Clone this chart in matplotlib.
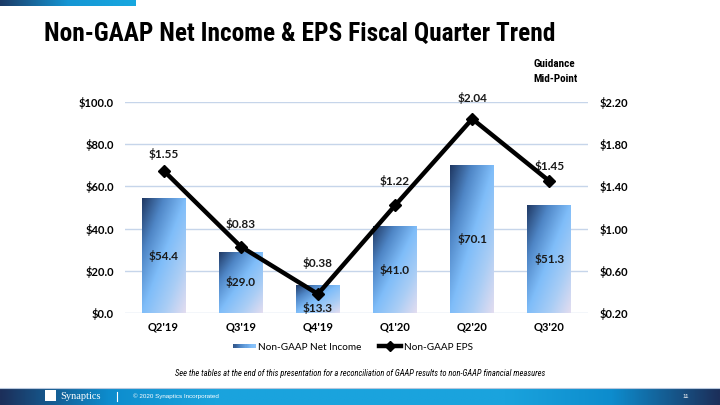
import numpy as np
import matplotlib
matplotlib.use('Agg')
import matplotlib.pyplot as plt
from matplotlib.colors import LinearSegmentedColormap
from matplotlib.patches import Rectangle
from matplotlib.lines import Line2D
from matplotlib.legend_handler import HandlerBase
from matplotlib import font_manager

quarters = ["Q2'19", "Q3'19", "Q4'19", "Q1'20", "Q2'20", "Q3'20"]
net_income = [54.4, 29.0, 13.3, 41.0, 70.1, 51.3]
eps = [1.55, 0.83, 0.38, 1.22, 2.04, 1.45]
left_ticks = [0, 20, 40, 60, 80, 100]
right_ticks = [0.20, 0.60, 1.00, 1.40, 1.80, 2.20]

FONT = 'Lato'
names = {f.name for f in font_manager.fontManager.ttflist}
NARROW = next((n for n in ['Liberation Sans Narrow', 'Roboto Condensed', 'Open Sans Condensed']
               if n in names), 'Liberation Sans')

bar_cmap = LinearSegmentedColormap.from_list(
    'bar', ['#1f3863', '#4f86c6', '#7fbdf9', '#a9cdf5', '#e3ddf0'])

fig = plt.figure(figsize=(7.2, 4.05), dpi=100)
fig.patch.set_facecolor('white')

# header strip + title
hdr = fig.add_axes([0, 1 - 6 / 405, 136 / 720, 6 / 405])
hdr.imshow(np.linspace(0, 1, 200)[None, :], aspect='auto',
           cmap=LinearSegmentedColormap.from_list('h', ['#1b3a66', '#1596d4', '#18a8e0']))
hdr.axis('off')
fig.text(44 / 720, 1 - 34 / 405, 'Non-GAAP Net Income & EPS Fiscal Quarter Trend',
         family=NARROW, weight='bold', fontsize=18.3,
         va='center', ha='left', color='black')
fig.text(533 / 720, 1 - 64 / 405, 'Guidance', family=NARROW,
         weight='bold', fontsize=8, va='center')
fig.text(533 / 720, 1 - 79 / 405, 'Mid-Point', family=NARROW,
         weight='bold', fontsize=8, va='center')

# main chart
ax = fig.add_axes([125 / 720, 1 - 313 / 405, 463 / 720, 211 / 405])
x = np.arange(len(quarters))
bars = ax.bar(x, net_income, width=0.57, color='none', zorder=2)
yy, xx = np.mgrid[0:1:100j, 0:1:100j]
grad = (xx + yy) / 2  # top-left dark -> bottom-right pale
label_shift = {2: -9}
for i, b in enumerate(bars):
    x0, w, h = b.get_x(), b.get_width(), b.get_height()
    im = ax.imshow(grad, cmap=bar_cmap, extent=(x0, x0 + w, 0, h),
                   aspect='auto', zorder=2, vmin=0, vmax=1)
    im.set_clip_path(b)
    ax.annotate(f'${h:.1f}', (x0 + w / 2, h / 2), xytext=(0, label_shift.get(i, 0)),
                textcoords='offset pixels', ha='center', va='center',
                family=FONT, weight='bold', fontsize=8.5, color='#1a1a1a', zorder=4)

ax.set_xlim(-0.5, len(quarters) - 0.5)
ax.set_ylim(0, 100)
ax.set_yticks(left_ticks)
ax.set_yticklabels([f'${v:.1f}' for v in left_ticks])
ax.set_xticks(x)
ax.set_xticklabels(quarters)
ax.grid(axis='y', color='#c6d5ea', linewidth=1.0, zorder=0)
ax.set_axisbelow(True)
for s in ax.spines.values():
    s.set_visible(False)
ax.tick_params(length=0, pad=8)
for lab in ax.get_xticklabels() + ax.get_yticklabels():
    lab.set_family(FONT)
    lab.set_weight('bold')
    lab.set_fontsize(8)
ax.tick_params(axis='x', pad=6)

ax2 = ax.twinx()
ax2.plot(x, eps, color='black', linewidth=3.2, marker='D', markersize=6, zorder=5)
ax2.set_ylim(0.2, 2.2)
ax2.set_yticks(right_ticks)
ax2.set_yticklabels([f'${v:.2f}' for v in right_ticks])
for s in ax2.spines.values():
    s.set_visible(False)
ax2.tick_params(length=0, pad=8)
for lab in ax2.get_yticklabels():
    lab.set_family(FONT)
    lab.set_weight('bold')
    lab.set_fontsize(8)
# label distance above each point, in pixels
lift = [17, 23, 31, 24, 21, 15]
for i, v in enumerate(eps):
    ax2.annotate(f'${v:.2f}', (i, v), xytext=(0, lift[i]),
                 textcoords='offset pixels', ha='center', va='center',
                 family=FONT, weight='bold', fontsize=8.5, color='#1a1a1a')


class GradientHandler(HandlerBase):
    def create_artists(self, legend, orig, xd, yd, width, height, fontsize, trans):
        n = 20
        arts = []
        for k in range(n):
            r = Rectangle((xd + width * k / n, yd + height * 0.15), width / n + 0.3,
                          height * 0.7, facecolor=bar_cmap(0.1 + 0.5 * k / n),
                          edgecolor='none', transform=trans)
            arts.append(r)
        return arts


bar_handle = Rectangle((0, 0), 1, 1)
line_handle = Line2D([], [], color='black', linewidth=3.2, marker='D', markersize=5)
fig.legend([bar_handle, line_handle], ['Non-GAAP Net Income', 'Non-GAAP EPS'],
           handler_map={bar_handle: GradientHandler()},
           loc='center', bbox_to_anchor=(353 / 720, 1 - 347 / 405), ncol=2,
           frameon=False, prop={'family': FONT, 'size': 7.2},
           handlelength=2.2, handletextpad=0.3, columnspacing=1.7)

fig.text(360 / 720, 1 - 374 / 405,
         'See the tables at the end of this presentation for a reconciliation of GAAP results to non-GAAP financial measures',
         family=NARROW, style='italic', fontsize=6.15, ha='center', va='center')

# footer
ftr = fig.add_axes([0, 0, 1, 17 / 405])
g = np.concatenate([np.linspace(0, 1, 120), np.linspace(1, 1, 160), np.linspace(1, 0, 120)])
ftr.imshow(g[None, :], aspect='auto',
           cmap=LinearSegmentedColormap.from_list('f', ['#1c2f5a', '#0d8ccd', '#1aa3dd']))
ftr.axis('off')
fig.add_artist(Line2D([0, 1], [17 / 405, 17 / 405], color='#b8c8dd', linewidth=0.8))
fig.add_artist(Rectangle((45 / 720, 4 / 405), 11 / 720, 11 / 405, facecolor='white',
                         edgecolor='none', transform=fig.transFigure))
fig.text(60 / 720, 8.5 / 405, 'Synaptics', family='Liberation Serif', fontsize=7.5,
         color='white', va='center')
fig.add_artist(Line2D([117 / 720, 117 / 720], [4 / 405, 13 / 405], color='white', linewidth=0.8))
fig.text(133 / 720, 8.5 / 405, '\u00a9 2020 Synaptics Incorporated', family='Liberation Sans',
         fontsize=4.5, color='white', va='center')
fig.text(682 / 720, 8.5 / 405, '11', family='Liberation Sans', fontsize=4.5,
         color='white', va='center')

fig.savefig('out.png', dpi=100)
